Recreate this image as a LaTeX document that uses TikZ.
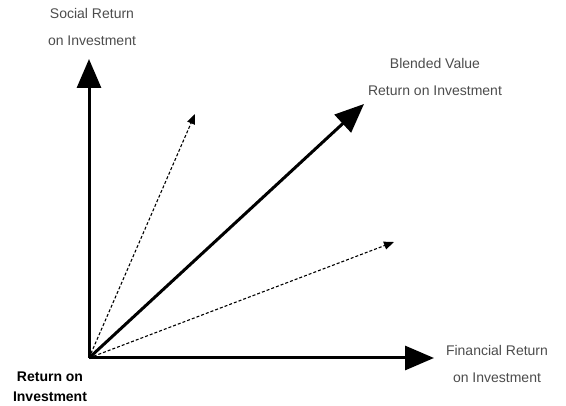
\documentclass[tikz,border=0pt]{standalone}
\usepackage{fontspec}
\setmainfont{Liberation Sans}
\usetikzlibrary{arrows.meta}
\tikzset{
  axis/.style={line width=3pt,-{Triangle[length=29pt,width=24pt]}},
  guess/.style={line width=1.1pt,dash pattern=on 3pt off 2pt,-{Triangle[length=10pt,width=8pt]}},
  lbl/.style={align=center,text=black!70,font=\fontsize{14}{27}\selectfont}
}
\begin{document}
\begin{tikzpicture}[x=1pt,y=-1pt]
            \useasboundingbox (0,0) rectangle (566,406);
            \coordinate (origin) at (89,358);
            \coordinate (social) at (89,59);
            \coordinate (financial) at (434,358);
            \coordinate (blended) at (364,104);
            \coordinate (upper) at (195,114);
            \coordinate (lower) at (394,242);
            \draw[guess] (origin) -- (upper);
            \draw[guess] (origin) -- (lower);
            \draw[axis] (origin) -- (social);
            \draw[axis] (origin) -- (financial);
            \draw[axis] (origin) -- (blended);
            \node[lbl] (sociallbl) at (92,27) {Social Return\\on Investment};
            \node[lbl] (blendedlbl) at (435,77) {Blended Value\\Return on Investment};
            \node[lbl] (financiallbl) at (497,364) {Financial Return\\on Investment};
            \node[lbl,text=black,font=\bfseries\fontsize{14}{20}\selectfont] (originlbl) at (50,387) {Return on\\Investment};
\end{tikzpicture}
\end{document}
